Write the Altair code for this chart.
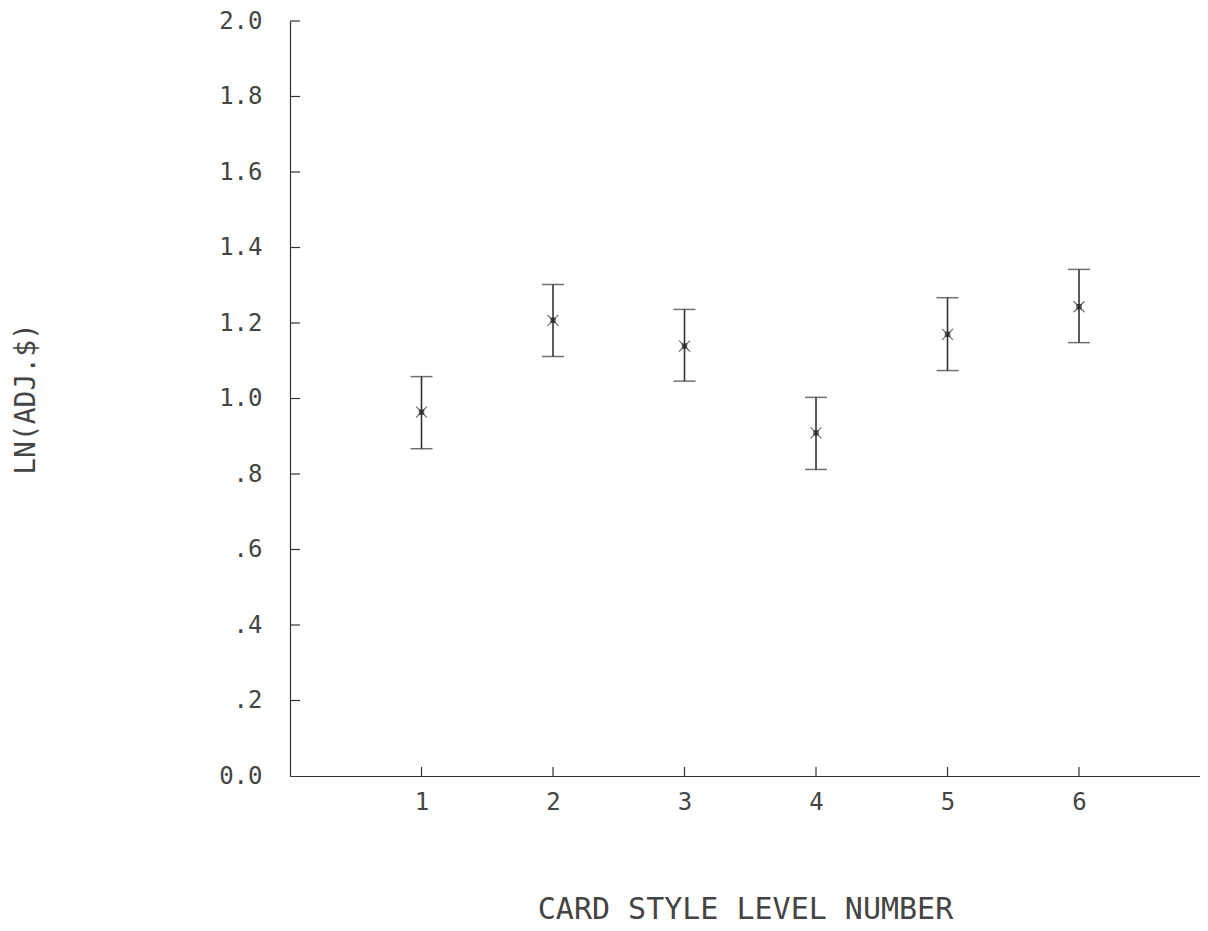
import altair as alt
import pandas as pd

# Data
levels = [1, 2, 3, 4, 5, 6]
means = [0.964, 1.207, 1.139, 0.909, 1.170, 1.243]
lows = [0.867, 1.111, 1.046, 0.812, 1.074, 1.148]
highs = [1.058, 1.302, 1.236, 1.003, 1.267, 1.342]
y_ticks = [0.2, 0.4, 0.6, 0.8, 1.0, 1.2, 1.4, 1.6, 1.8, 2.0]

df = pd.DataFrame({"level": levels, "mean": means, "lo": lows, "hi": highs})
ticks_df = pd.DataFrame({"v": y_ticks})

W, H = 910, 755
FONT = "DejaVu Sans Mono"
INK = "#333333"

xscale = alt.Scale(domain=[0, 6.92], nice=False, zero=False)
yscale = alt.Scale(domain=[0, 2.0], nice=False)

x_axis = alt.Axis(
    values=levels, format="d", grid=False, ticks=False, domain=True, domainColor=INK,
    domainWidth=1.2, labelFont=FONT, labelFontSize=24, labelColor="#444444",
    labelPadding=14, labelFontWeight="normal",
    title="CARD STYLE LEVEL NUMBER", titleFont=FONT, titleFontSize=30,
    titleFontWeight="normal", titleColor="#444444", titleX=W / 2, titleY=142,
    titleAlign="center", titleBaseline="alphabetic", titleAngle=0,
)
y_axis = alt.Axis(
    values=[0.0] + y_ticks, grid=False, ticks=False, domain=True, domainColor=INK,
    domainWidth=1.2, labelFont=FONT, labelFontSize=24, labelColor="#444444",
    labelPadding=28, labelFontWeight="normal",
    labelExpr="datum.value > 0 && datum.value < 1 ? replace(format(datum.value, '.1f'), '0.', '.') : format(datum.value, '.1f')",
    title="LN(ADJ.$)", titleFont=FONT, titleFontSize=28, titleFontWeight="normal",
    titleColor="#444444", titleX=-264, titleY=H / 2, titleAngle=-90,
    titleAlign="center", titleBaseline="middle",
)

base = alt.Chart(df)

bars = base.mark_rule(color=INK, strokeWidth=1.6).encode(
    x=alt.X("level:Q", scale=xscale, axis=x_axis),
    y=alt.Y("lo:Q", scale=yscale, axis=y_axis),
    y2="hi:Q",
)
cap_lo = base.mark_tick(color=INK, orient="horizontal", size=22, thickness=1.5).encode(
    x=alt.X("level:Q", scale=xscale), y=alt.Y("lo:Q", scale=yscale)
)
cap_hi = base.mark_tick(color=INK, orient="horizontal", size=22, thickness=1.5).encode(
    x=alt.X("level:Q", scale=xscale), y=alt.Y("hi:Q", scale=yscale)
)
cross = base.mark_point(
    shape="M-1,-1L1,1M-1,1L1,-1", size=120, filled=False, color=INK, strokeWidth=1.2
).encode(x=alt.X("level:Q", scale=xscale), y=alt.Y("mean:Q", scale=yscale))
center = base.mark_square(size=30, color="#222222").encode(
    x=alt.X("level:Q", scale=xscale), y=alt.Y("mean:Q", scale=yscale)
)

ytick_marks = alt.Chart(ticks_df).mark_rule(color=INK, strokeWidth=1.2).encode(
    y=alt.Y("v:Q", scale=yscale), x=alt.value(0), x2=alt.value(10)
)
xtick_marks = base.mark_rule(color=INK, strokeWidth=1.2).encode(
    x=alt.X("level:Q", scale=xscale), y=alt.value(H), y2=alt.value(H - 9)
)

chart = (
    alt.layer(bars, cap_lo, cap_hi, cross, center, ytick_marks, xtick_marks)
    .properties(
        width=W, height=H,
        autosize=alt.AutoSizeParams(type="none"),
        padding={"left": 282, "top": 13, "right": 0, "bottom": 150},
        background="white",
    )
    .configure_view(stroke=None)
)

chart.save("out.html", embed_options={"renderer": "svg", "actions": False})
